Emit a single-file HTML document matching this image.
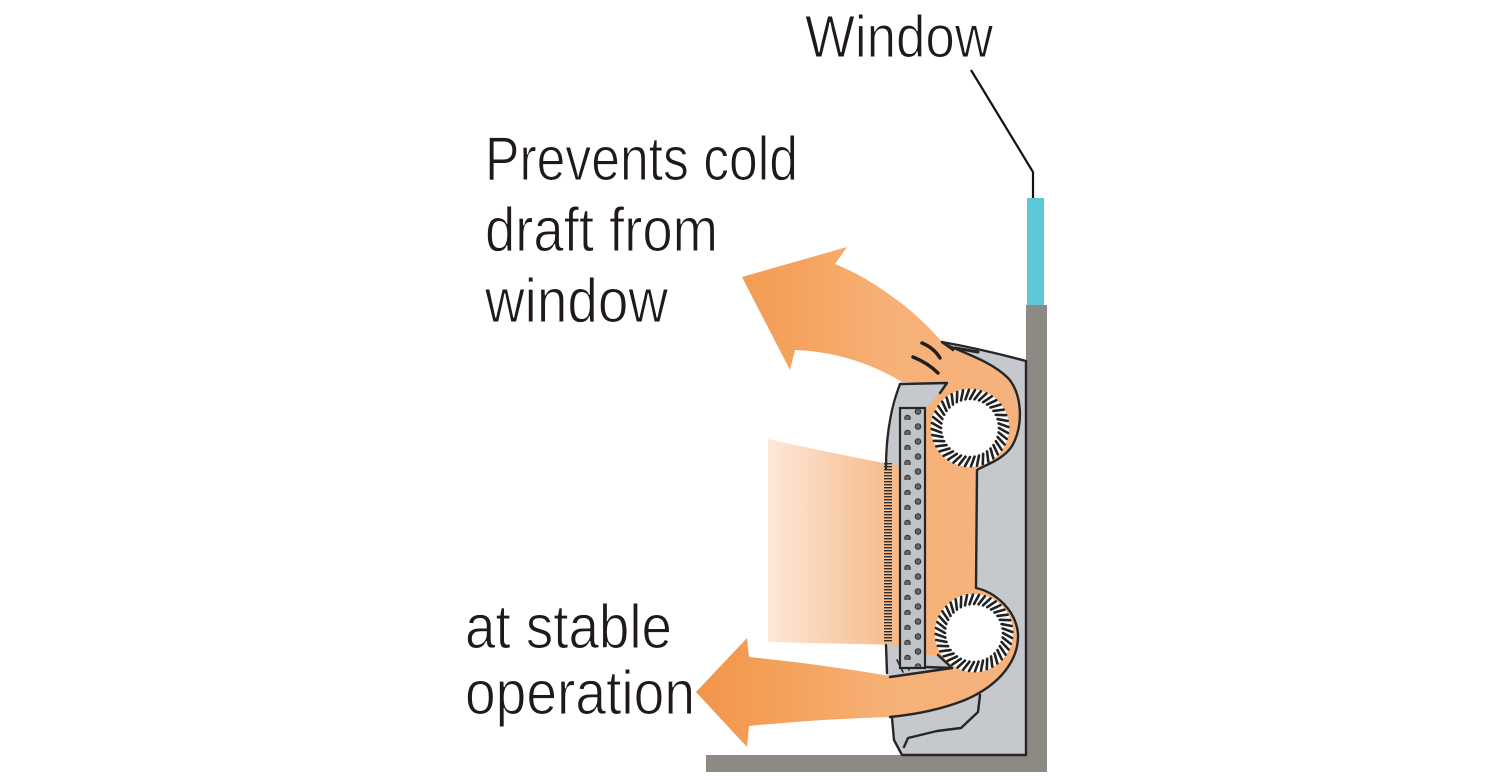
<!DOCTYPE html>
<html>
<head>
<meta charset="utf-8">
<style>
  html,body{margin:0;padding:0;background:#fff;}
  svg{display:block;}
  .lbl{font-family:"Liberation Sans","DejaVu Sans",sans-serif;fill:#1f1a17;stroke:#fff;stroke-width:1.1px;}
</style>
</head>
<body>
<svg width="1500" height="780" viewBox="0 0 1500 780" xmlns="http://www.w3.org/2000/svg">
  <defs>
    <linearGradient id="og" gradientUnits="userSpaceOnUse" x1="697" y1="0" x2="1020" y2="0">
      <stop offset="0" stop-color="#f2954a"/>
      <stop offset="0.28" stop-color="#f4a25c"/>
      <stop offset="0.6" stop-color="#f6b177"/>
      <stop offset="1" stop-color="#f5b27e"/>
    </linearGradient>
    <linearGradient id="fg" gradientUnits="userSpaceOnUse" x1="768" y1="0" x2="900" y2="0">
      <stop offset="0" stop-color="#fde8d8"/>
      <stop offset="0.5" stop-color="#f9cfae"/>
      <stop offset="1" stop-color="#f6b987"/>
    </linearGradient>
    <pattern id="comb" x="0" y="463" width="8" height="3" patternUnits="userSpaceOnUse">
      <rect x="0" y="0" width="8" height="1.4" fill="#2e2e2e"/>
    </pattern>
    <pattern id="dots" x="900" y="405" width="25" height="15" patternUnits="userSpaceOnUse">
      <circle cx="7.5" cy="13" r="2.8" fill="#666" stroke="#333" stroke-width="1"/>
      <circle cx="18" cy="6.5" r="2.8" fill="#666" stroke="#333" stroke-width="1"/>
    </pattern>
    <line id="bl" x1="29" y1="0" x2="38" y2="5" stroke="#222" stroke-width="2.6" stroke-linecap="round"/>
    <g id="fan">
      <circle cx="0" cy="0" r="39" fill="#fff"/>
      <use href="#bl" transform="rotate(0)"/><use href="#bl" transform="rotate(9)"/>
      <use href="#bl" transform="rotate(18)"/><use href="#bl" transform="rotate(27)"/>
      <use href="#bl" transform="rotate(36)"/><use href="#bl" transform="rotate(45)"/>
      <use href="#bl" transform="rotate(54)"/><use href="#bl" transform="rotate(63)"/>
      <use href="#bl" transform="rotate(72)"/><use href="#bl" transform="rotate(81)"/>
      <use href="#bl" transform="rotate(90)"/><use href="#bl" transform="rotate(99)"/>
      <use href="#bl" transform="rotate(108)"/><use href="#bl" transform="rotate(117)"/>
      <use href="#bl" transform="rotate(126)"/><use href="#bl" transform="rotate(135)"/>
      <use href="#bl" transform="rotate(144)"/><use href="#bl" transform="rotate(153)"/>
      <use href="#bl" transform="rotate(162)"/><use href="#bl" transform="rotate(171)"/>
      <use href="#bl" transform="rotate(180)"/><use href="#bl" transform="rotate(189)"/>
      <use href="#bl" transform="rotate(198)"/><use href="#bl" transform="rotate(207)"/>
      <use href="#bl" transform="rotate(216)"/><use href="#bl" transform="rotate(225)"/>
      <use href="#bl" transform="rotate(234)"/><use href="#bl" transform="rotate(243)"/>
      <use href="#bl" transform="rotate(252)"/><use href="#bl" transform="rotate(261)"/>
      <use href="#bl" transform="rotate(270)"/><use href="#bl" transform="rotate(279)"/>
      <use href="#bl" transform="rotate(288)"/><use href="#bl" transform="rotate(297)"/>
      <use href="#bl" transform="rotate(306)"/><use href="#bl" transform="rotate(315)"/>
      <use href="#bl" transform="rotate(324)"/><use href="#bl" transform="rotate(333)"/>
      <use href="#bl" transform="rotate(342)"/><use href="#bl" transform="rotate(351)"/>
    </g>
  </defs>

  <!-- Labels -->
  <text class="lbl" x="805" y="57" font-size="59" textLength="188" lengthAdjust="spacingAndGlyphs">Window</text>
  <text class="lbl" x="485" y="180" font-size="62" textLength="313" lengthAdjust="spacingAndGlyphs">Prevents cold</text>
  <text class="lbl" x="485" y="251" font-size="62" textLength="233" lengthAdjust="spacingAndGlyphs">draft from</text>
  <text class="lbl" x="485" y="322" font-size="62" textLength="183" lengthAdjust="spacingAndGlyphs">window</text>
  <text class="lbl" x="465" y="648" font-size="62" textLength="207" lengthAdjust="spacingAndGlyphs">at stable</text>
  <text class="lbl" x="465" y="714" font-size="62" textLength="230" lengthAdjust="spacingAndGlyphs">operation</text>

  <!-- Leader line -->
  <polyline points="971,70 1033,172 1033,205" fill="none" stroke="#111" stroke-width="2.2"/>

  <!-- Window glass -->
  <rect x="1027" y="198" width="17" height="108" fill="#5cc7d7"/>
  <!-- Wall and floor -->
  <rect x="1026" y="305" width="21" height="467" fill="#8d8a84"/>
  <rect x="706" y="755" width="341" height="17" fill="#8d8a84"/>

  <!-- Housing fill -->
  <path d="M942,342 C970,347 1000,354 1026,361 L1026,755 L902,755 L894,740 L892,718 L887,672 L886,480 L889,430 L900,384 L946,383 L950,350 Z" fill="#c5c8cc"/>

  <!-- Main orange air path -->
  <path d="M835,264 L847,247 L742,277 L790,370 L795,350 Q852,352 902,382 L946,383 L936,397 L926,408 L925,655 L938,655 L952,668 L890,676 Q820,664 749,657 L747,638 L696,692 L747,747 L749,726 Q820,719 890,717 C920,714 945,708 965,700 C1000,685 1019,660 1018,634 C1016,610 995,592 976,588 L977,470 C985,465 1003,460 1012,446 C1024,425 1022,393 1008,378 C990,360 960,352 943,343 C925,322 905,305 890,295 C872,282 855,272 835,264 Z" fill="url(#og)"/>

  <!-- Faded incoming flow -->
  <path d="M768,439 Q825,452 900,466 L900,645 L768,642 Z" fill="url(#fg)"/>

  <!-- Housing outlines -->
  <g fill="none" stroke="#262626" stroke-width="2.4" stroke-linejoin="round" stroke-linecap="round">
    <path d="M942,342 C970,347 1000,354 1026,361 L1026,755 L902,755 L894,740 L892,718"/>
    <path d="M886,468 C886,440 890,410 900,384 L947,383 L940,393"/>
    <path d="M943,343 C960,352 990,360 1008,378 C1022,393 1024,425 1012,446 C1003,460 985,465 977,470 L976,588 C995,592 1016,610 1018,634 C1019,660 1000,685 965,700 C945,708 920,714 890,717"/>
    <path d="M942,342 L953,350"/>
    <path d="M955,348 L978,352" stroke-width="3"/>
    <path d="M980,695 L978,712 L961,728 L937,731 L908,738 L904,747"/>
    <path d="M886,645 L887,673"/>
    <path d="M925,667 L952,668 L938,655"/>
    <path d="M952,668 L890,677"/>
    <path d="M897,660 L903,672 M903,657 L909,670" stroke-width="1.6"/>
  </g>

  <!-- Comb fins -->
  <rect x="884" y="463" width="8" height="180" fill="url(#comb)"/>

  <!-- Filter / heat exchanger -->
  <rect x="900" y="408" width="25" height="260" fill="#c0c3c7" stroke="#262626" stroke-width="2.2"/>
  <rect x="901" y="409" width="23" height="258" fill="url(#dots)"/>

  <!-- Fans -->
  <use href="#fan" transform="translate(970,428)"/>
  <use href="#fan" transform="translate(974,633)"/>

  <!-- Small motion marks -->
  <g fill="none" stroke="#1f1f1f" stroke-width="3.4" stroke-linecap="round">
    <path d="M922,343 Q934,348 940,358"/>
    <path d="M913,357 Q928,363 938,373"/>
  </g>
</svg>
</body>
</html>
